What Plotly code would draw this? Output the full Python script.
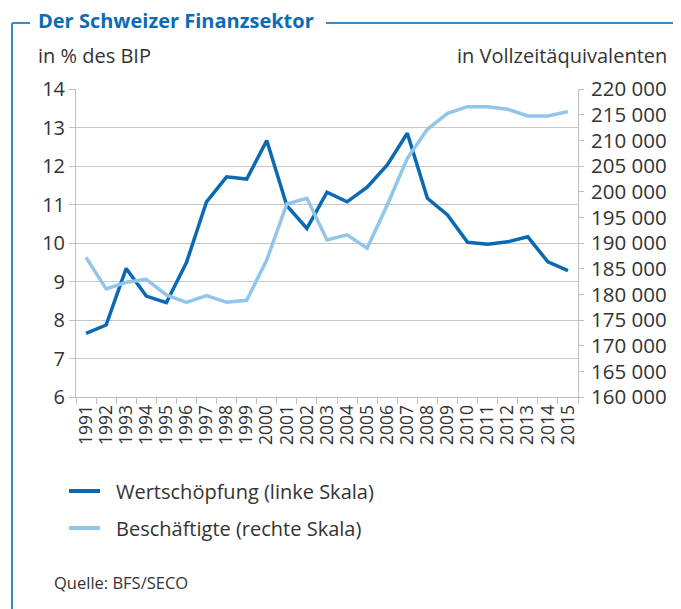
import plotly.graph_objects as go

years = [str(y) for y in range(1991, 2016)]
wertschoepfung = [7.65, 7.87, 9.34, 8.62, 8.45, 9.49, 11.07, 11.72, 11.66, 12.66,
                  10.97, 10.38, 11.32, 11.07, 11.45, 12.03, 12.85, 11.16, 10.73, 10.02,
                  9.97, 10.03, 10.16, 9.51, 9.28]
beschaeftigte = [187200, 181050, 182350, 182900, 179900, 178450, 179750, 178450, 178850, 186700,
                 197600, 198700, 190600, 191600, 189000, 197400, 206500, 212150, 215250, 216550,
                 216550, 216050, 214750, 214750, 215600]
series_names = ["Wertschöpfung (linke Skala)", "Beschäftigte (rechte Skala)"]
left_ticks = list(range(6, 15))
right_ticks = list(range(160000, 220001, 5000))
right_ticktext = [f"{v:,}".replace(",", " ") for v in right_ticks]

# page body has an 8px margin; work in window pixel coordinates
OFF = 8
WIN_W, WIN_H = 681, 609
L, R, T, B = 76, 578, 89, 397
def px(x):
    return (x - L) / (R - L)
def py(y):
    return (B - y) / (B - T)

FONT = "Open Sans"
TXT = "#333333"
DARK = "#0a69b1"
LIGHT = "#92c5ea"
FRAME = "#3d8ac8"
AX = "#bfbfbf"

fig = go.Figure()
fig.add_trace(go.Scatter(x=years, y=wertschoepfung, mode="lines", name=series_names[0],
                         line=dict(color=DARK, width=3.5), yaxis="y", showlegend=False))
fig.add_trace(go.Scatter(x=years, y=beschaeftigte, mode="lines", name=series_names[1],
                         line=dict(color=LIGHT, width=3.5), yaxis="y2", showlegend=False))

fig.update_layout(
    width=WIN_W - OFF, height=WIN_H - OFF,
    margin=dict(l=L - OFF, r=WIN_W - R, t=T - OFF, b=WIN_H - B, pad=0),
    paper_bgcolor="white", plot_bgcolor="white",
    font=dict(family=FONT, color=TXT, size=20),
    xaxis=dict(type="category", tickson="boundaries", ticks="outside", ticklen=6,
               tickmode="linear", tick0=0, dtick=1,
               tickcolor=AX, showline=True, linecolor=AX, linewidth=1,
               showgrid=False, tickangle=-90, tickfont=dict(size=17.5, color=TXT),
               range=[-0.5, 24.5]),
    yaxis=dict(range=[6, 14], tickvals=left_ticks, ticks="outside", ticklen=6,
               tickcolor=AX, showline=True, linecolor=AX, linewidth=1,
               showgrid=True, gridcolor="#c8c8c8", gridwidth=1, zeroline=False,
               tickfont=dict(size=20, color=TXT)),
    yaxis2=dict(range=[160000, 220000], tickvals=right_ticks, ticktext=right_ticktext,
                overlaying="y", side="right", ticks="outside", ticklen=5,
                ticklabelstandoff=3,
                tickcolor=AX, showline=True, linecolor=AX, linewidth=1,
                showgrid=False, zeroline=False, tickfont=dict(size=20.5, color=TXT)),
    showlegend=False,
)

annotations = [
    dict(text="<b>Der Schweizer Finanzsektor</b>", x=px(36), y=py(20), xanchor="left", yanchor="middle",
         font=dict(size=20, color="#0b6cb5", family=FONT)),
    dict(text="in % des BIP", x=px(36), y=py(56), xanchor="left", yanchor="middle",
         font=dict(size=20, color=TXT)),
    dict(text="in Vollzeitäquivalenten", x=px(669), y=py(56), xanchor="right", yanchor="middle",
         font=dict(size=20, color=TXT)),
    dict(text=series_names[0], x=px(114), y=py(491), xanchor="left", yanchor="middle",
         font=dict(size=20, color=TXT)),
    dict(text=series_names[1], x=px(114), y=py(528), xanchor="left", yanchor="middle",
         font=dict(size=20, color=TXT)),
    dict(text="Quelle: BFS/SECO", x=px(52), y=py(582), xanchor="left", yanchor="middle",
         font=dict(size=16.5, color=TXT)),
]
for a in annotations:
    a.update(xref="paper", yref="paper", showarrow=False)
fig.update_layout(annotations=annotations)

shapes = [
    dict(x0=px(12), x1=px(30), y0=py(23), y1=py(23), line=dict(color=FRAME, width=2)),
    dict(x0=px(326), x1=px(690), y0=py(23), y1=py(23), line=dict(color=FRAME, width=2)),
    dict(x0=px(12), x1=px(12), y0=py(23), y1=py(620), line=dict(color=FRAME, width=2)),
    dict(x0=px(69), x1=px(100), y0=py(491), y1=py(491), line=dict(color=DARK, width=4)),
    dict(x0=px(69), x1=px(100), y0=py(528), y1=py(528), line=dict(color=LIGHT, width=4)),
]
for s in shapes:
    s.update(type="line", xref="paper", yref="paper")
fig.update_layout(shapes=shapes)

fig.write_html("out.html")
